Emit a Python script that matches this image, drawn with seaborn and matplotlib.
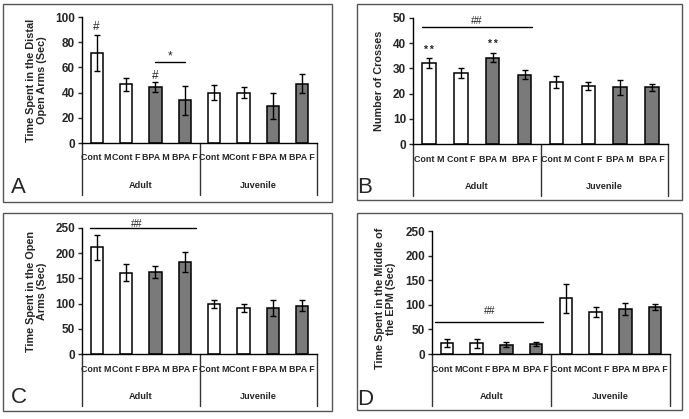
import matplotlib
matplotlib.use("Agg")
import numpy as np
import pandas as pd
import matplotlib.pyplot as plt
import seaborn as sns
from matplotlib.patches import Rectangle
from matplotlib.transforms import blended_transform_factory

sns.set_style("ticks")
plt.rcParams['font.family'] = ['Liberation Sans', 'DejaVu Sans']

W, H = 689, 419

groups = ['Adult', 'Juvenile']
conditions = ['Cont M', 'Cont F', 'BPA M', 'BPA F']
treatments = ['Cont', 'Cont', 'BPA', 'BPA']

# A - distal open arms (sec)
a_means = [71.5, 46.5, 44.2, 34.0, 40.0, 40.0, 29.5, 47.0]
a_errs = [14.5, 5.0, 4.0, 11.5, 6.0, 4.5, 10.5, 7.5]
# B - number of crosses
b_means = [32.3, 28.3, 34.3, 27.4, 24.6, 22.9, 22.5, 22.6]
b_errs = [2.0, 2.0, 1.9, 1.8, 2.2, 1.6, 2.9, 1.4]
# C - open arms (sec)
c_means = [212, 161, 162, 183, 100, 91, 91, 96]
c_errs = [25, 17, 12, 20, 8, 8, 16, 11.5]
# D - middle of the EPM (sec)
d_means = [22, 22, 18.5, 20.5, 113, 85, 91.5, 96]
d_errs = [7.5, 9, 5, 4, 29.5, 10, 11.5, 6.5]


def make_df(means, errs):
    rows = []
    for gi, g in enumerate(groups):
        for ci, c in enumerate(conditions):
            k = gi * 4 + ci
            rows.append({'key': f'{g} {c}', 'group': g, 'cond': c,
                         'treat': treatments[ci], 'mean': means[k], 'err': errs[k]})
    return pd.DataFrame(rows)


def draw_panel(fig, axrect, frame, df, ymax, ystep, ylabel, label_x, letter, letter_xy, label_y=0.5):
    x0, y0, x1, y1 = axrect
    ax = fig.add_axes([x0 / W, 1 - y1 / H, (x1 - x0) / W, (y1 - y0) / H])
    sns.barplot(data=df, x='key', y='mean', hue='treat', order=list(df['key']),
                palette={'Cont': 'white', 'BPA': '#7a7a7a'}, dodge=False, width=0.42,
                edgecolor='black', linewidth=1.1, errorbar=None, legend=False, ax=ax)
    ax.errorbar(np.arange(len(df)), df['mean'], yerr=df['err'], fmt='none',
                ecolor='black', elinewidth=1, capsize=2.5, capthick=1)
    ax.set_xlim(-0.5, 7.5)
    ax.set_ylim(0, ymax)
    ax.set_yticks(np.arange(0, ymax + 1, ystep))
    ax.set_xticks([])
    ax.set_xlabel('')
    sns.despine(ax=ax)
    for s in ['left', 'bottom']:
        ax.spines[s].set_color('black')
        ax.spines[s].set_linewidth(1)
    ax.tick_params(axis='y', direction='out', length=3, width=1, labelsize=8.5, pad=2)
    for lbl in ax.get_yticklabels():
        lbl.set_fontweight('bold')
    ax.set_ylabel(ylabel, fontsize=7.8, fontweight='bold', linespacing=1.15)
    ax.yaxis.set_label_coords(label_x, label_y)

    # multi-level category axis
    hpx = y1 - y0
    trans = blended_transform_factory(ax.transData, ax.transAxes)
    for i, row in df.iterrows():
        ax.text(i, -15 / hpx, row['cond'], transform=trans, ha='center', va='center',
                fontsize=6.4, fontweight='bold', clip_on=False)
    for gi, g in enumerate(groups):
        ax.text(gi * 4 + 1.5, -42 / hpx, g, transform=trans, ha='center', va='center',
                fontsize=6.6, fontweight='bold', clip_on=False)
    for xd in [-0.5, 3.5, 7.5]:
        ax.plot([xd, xd], [0, -52 / hpx], transform=trans, color='#333333', lw=1, clip_on=False)

    fx0, fy0, fx1, fy1 = frame
    fig.add_artist(Rectangle((fx0 / W, 1 - fy1 / H), (fx1 - fx0) / W, (fy1 - fy0) / H,
                             transform=fig.transFigure, fill=False, ec='#555555', lw=1))
    fig.text(letter_xy[0] / W, 1 - letter_xy[1] / H, letter, fontsize=16,
             ha='left', va='baseline')
    return ax


fig = plt.figure(figsize=(W / 100, H / 100), dpi=100)

ax_a = draw_panel(fig, (82, 17, 317, 143), (3, 4, 332, 202), make_df(a_means, a_errs),
                  100, 20, 'Time Spent in the Distal\nOpen Arms (Sec)', -0.149, 'A', (11, 193))
ax_a.text(0, 92, '#', ha='center', va='center', fontsize=8.5)
ax_a.text(2, 53.5, '#', ha='center', va='center', fontsize=8.5)
ax_a.plot([2, 3], [64, 64], color='black', lw=1)
ax_a.text(2.5, 69, '*', ha='center', va='center', fontsize=8.5)

ax_b = draw_panel(fig, (413, 18, 668, 144), (357, 4, 682, 200), make_df(b_means, b_errs),
                  50, 10, 'Number of Crosses', -0.114, 'B', (357, 193))
ax_b.text(0, 37.3, '* *', ha='center', va='center', fontsize=7.5, fontweight='bold')
ax_b.text(2, 39.6, '* *', ha='center', va='center', fontsize=7.5, fontweight='bold')
ax_b.plot([-0.22, 3.22], [46.5, 46.5], color='black', lw=1)
ax_b.text(1.5, 49, '##', ha='center', va='center', fontsize=7.5)

ax_c = draw_panel(fig, (82, 228, 317, 354), (3, 213, 332, 411), make_df(c_means, c_errs),
                  250, 50, 'Time Spent in the Open\nArms (Sec)', -0.149, 'C', (11, 403))
ax_c.plot([-0.23, 3.38], [250, 250], color='black', lw=1, clip_on=False)
ax_c.text(1.36, 249, '##', ha='center', va='bottom', fontsize=7.5, clip_on=False)

ax_d = draw_panel(fig, (432, 231, 670, 354), (357, 213, 682, 410), make_df(d_means, d_errs),
                  250, 50, 'Time Spent in the Middle of\nthe EPM (Sec)', -0.151, 'D', (357, 405),
                  label_y=0.45)
ax_d.plot([-0.4, 3.23], [65, 65], color='black', lw=1)
ax_d.text(1.45, 87, '##', ha='center', va='center', fontsize=7.5)

fig.savefig('out.png', dpi=100)
